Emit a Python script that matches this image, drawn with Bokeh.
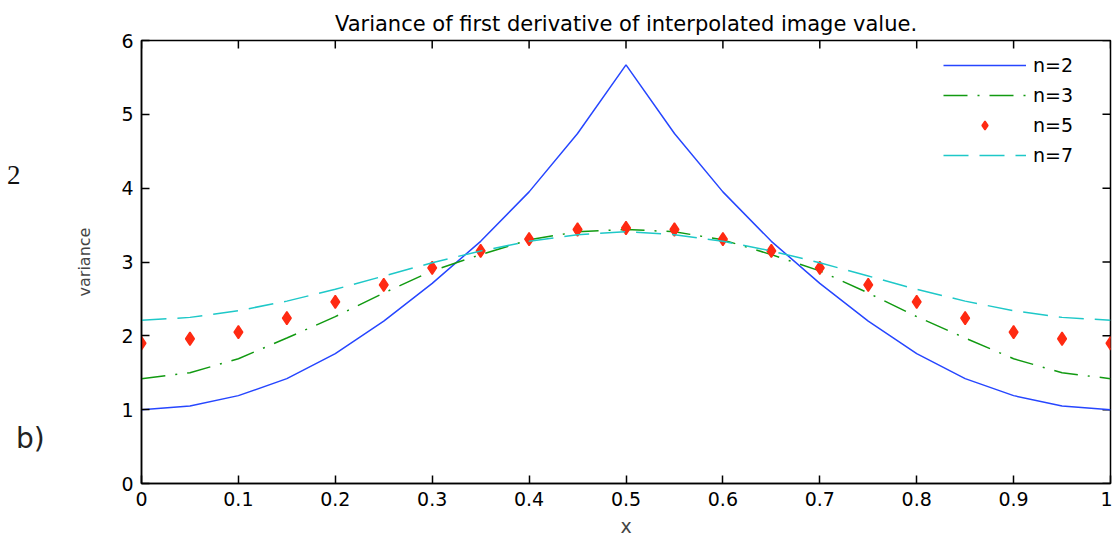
from math import pi

from bokeh.plotting import figure
from bokeh.layouts import row
from bokeh.models import Range1d, Legend, LegendItem, FixedTicker, Div
from bokeh.embed import file_html
from bokeh.resources import INLINE

# Sample positions along the pixel interval
x = [0.0, 0.05, 0.1, 0.15, 0.2, 0.25, 0.3, 0.35, 0.4, 0.45, 0.5,
     0.55, 0.6, 0.65, 0.7, 0.75, 0.8, 0.85, 0.9, 0.95, 1.0]

# Variance of the first derivative for each interpolation order n
var_n2 = [1.00, 1.05, 1.19, 1.42, 1.76, 2.20, 2.71, 3.28, 3.95, 4.74, 5.67,
          4.74, 3.95, 3.28, 2.71, 2.20, 1.76, 1.42, 1.19, 1.05, 1.00]
var_n3 = [1.42, 1.50, 1.69, 1.97, 2.26, 2.58, 2.88, 3.10, 3.30, 3.41, 3.44,
          3.41, 3.30, 3.10, 2.88, 2.58, 2.26, 1.97, 1.69, 1.50, 1.42]
var_n5 = [1.90, 1.96, 2.05, 2.24, 2.46, 2.69, 2.92, 3.15, 3.31, 3.44, 3.46,
          3.44, 3.31, 3.15, 2.92, 2.69, 2.46, 2.24, 2.05, 1.96, 1.90]
var_n7 = [2.21, 2.25, 2.34, 2.47, 2.63, 2.81, 2.99, 3.15, 3.28, 3.37, 3.41,
          3.37, 3.28, 3.15, 2.99, 2.81, 2.63, 2.47, 2.34, 2.25, 2.21]

series_labels = ["n=2", "n=3", "n=5", "n=7"]

x_ticks = [0.0, 0.1, 0.2, 0.3, 0.4, 0.5, 0.6, 0.7, 0.8, 0.9, 1.0]
x_tick_labels = ["0", "0.1", "0.2", "0.3", "0.4", "0.5", "0.6", "0.7",
                 "0.8", "0.9", "1"]
y_ticks = [0, 1, 2, 3, 4, 5, 6]

X_MIN, X_MAX = 0, 1
Y_MIN, Y_MAX = 0, 6

FONT = "DejaVu Sans"
TICK_SIZE = "19px"
SIDE_W = 70  # strip on the left holding the panel tags

p = figure(width=1112 - SIDE_W, height=539,
           x_range=Range1d(X_MIN, X_MAX), y_range=Range1d(Y_MIN, Y_MAX),
           output_backend="svg", toolbar_location=None,
           min_border_left=141 - SIDE_W, min_border_right=2,
           min_border_top=40, min_border_bottom=56,
           background_fill_color="white", border_fill_color="white")

p.title.text = "Variance of first derivative of interpolated image value."
p.title.text_font = FONT
p.title.text_font_size = "21px"
p.title.text_font_style = "normal"
p.title.align = "center"
p.title.text_color = "black"
p.title.standoff = 10

p.grid.visible = False
p.outline_line_color = "black"
p.outline_line_width = 1.5


def style_axis(ax):
    ax.major_tick_in = 8
    ax.major_tick_out = 0
    ax.minor_tick_line_color = None
    ax.axis_line_color = "black"
    ax.axis_line_width = 1.5
    ax.major_tick_line_color = "black"
    ax.major_tick_line_width = 1.5
    ax.major_label_text_font = FONT
    ax.major_label_text_color = "black"
    ax.major_label_text_font_size = TICK_SIZE
    ax.major_label_standoff = 8


xaxis = p.xaxis[0]
xaxis.ticker = FixedTicker(ticks=x_ticks)
xaxis.major_label_overrides = {t: s for t, s in zip(x_ticks, x_tick_labels)}
style_axis(xaxis)
xaxis.axis_label = "x"
xaxis.axis_label_text_font = FONT
xaxis.axis_label_text_font_size = "19px"
xaxis.axis_label_text_font_style = "normal"
xaxis.axis_label_standoff = 6

yaxis = p.yaxis[0]
yaxis.ticker = FixedTicker(ticks=y_ticks)
style_axis(yaxis)
yaxis.axis_label = "variance"
yaxis.axis_label_text_font = FONT
yaxis.axis_label_text_font_size = "16px"
yaxis.axis_label_text_font_style = "normal"
yaxis.axis_label_standoff = 24

# Inward tick marks along the top and right edges of the box
# (the outer half of each dash is clipped away by the frame)
p.scatter(x_ticks, [Y_MAX] * len(x_ticks), marker="dash", angle=pi / 2,
          size=16, line_color="black", line_width=1.5)
p.scatter([X_MAX] * len(y_ticks), y_ticks, marker="dash",
          size=16, line_color="black", line_width=1.5)

# Curves
r2 = p.line(x, var_n2, line_color="#2646ff", line_width=1.5)
r3 = p.line(x, var_n3, line_color="#119a11", line_width=1.5,
            line_dash="24 10 2 10")
r5 = p.scatter(x, var_n5, marker="diamond", size=13,
               fill_color="#ff2a12", line_color="#ff2a12", line_width=1.5)
r7 = p.line(x, var_n7, line_color="#1ec8c8", line_width=1.5,
            line_dash="25 11")

legend = Legend(
    items=[LegendItem(label=lbl, renderers=[r])
           for lbl, r in zip(series_labels, [r2, r3, r5, r7])],
    location=(802, 317),
    border_line_alpha=0, background_fill_alpha=0,
    glyph_width=83, glyph_height=22, label_height=22,
    spacing=8, padding=0, margin=0, label_standoff=7,
    label_text_font=FONT, label_text_font_size="19px",
    label_text_color="black",
)
p.add_layout(legend)

# Panel tags to the left of the axes
tags = Div(
    width=SIDE_W, height=539, margin=0,
    text=(
        '<div style="position:relative;width:70px;height:539px;">'
        '<span style="position:absolute;left:7px;top:156px;'
        'font-family:\'Liberation Serif\',\'DejaVu Serif\',serif;'
        'font-size:27px;color:#111;">2</span>'
        '<span style="position:absolute;left:16px;top:419px;'
        'font-family:\'DejaVu Sans\',sans-serif;font-size:28px;'
        'color:#222;">b)</span>'
        '</div>'
    ),
)

layout = row(tags, p, spacing=0)

open("out.html", "w").write(file_html(layout, INLINE))
